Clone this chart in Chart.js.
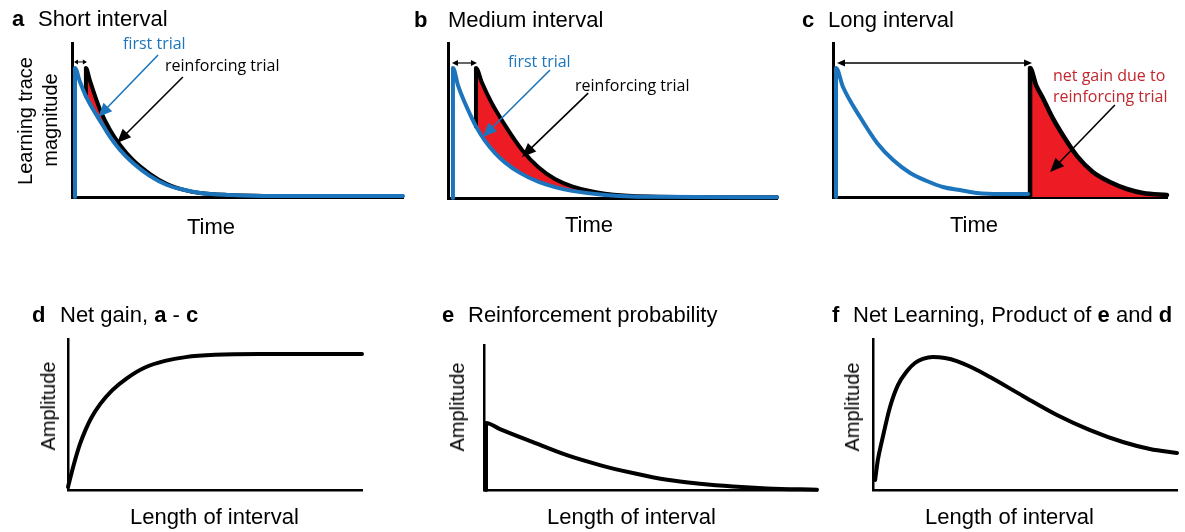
<!DOCTYPE html>
<html><head><meta charset="utf-8">
<script src="https://cdn.jsdelivr.net/npm/chart.js@4.4.1/dist/chart.umd.min.js"></script>
<style>
html,body{margin:0;padding:0;background:#fff;}
body{width:1185px;height:532px;overflow:hidden;position:relative;font-family:"Liberation Sans",Arial,sans-serif;}
canvas{position:absolute;left:0;top:0;}
.t{position:absolute;white-space:nowrap;line-height:1;color:#000;}
.ann{font-family:"Open Sans",sans-serif;}
</style>
</head><body>
<script>
// ---------- data (time in % of axis, magnitude 0..1) ----------
// Panel a: short interval
const aBlueTime  = [0.9, 0.9, 2.4, 4.2, 6.3, 8.5, 11.5, 14.5, 18.4, 23.6, 28.7, 34.1, 38.7, 47.7, 59.8, 100];
const aBlueMag   = [0, 0.838, 0.748, 0.655, 0.571, 0.494, 0.39, 0.305, 0.221, 0.136, 0.078, 0.045, 0.026, 0.013, 0.006, 0.006];
const aBlackTime = [4.2, 4.2, 5.4, 6.9, 8.5, 11.5, 14.5, 18.4, 23.6, 28.7, 34.1, 38.7, 47.7, 59.8];
const aBlackMag  = [0.655, 0.838, 0.757, 0.66, 0.565, 0.435, 0.338, 0.24, 0.149, 0.084, 0.045, 0.026, 0.013, 0.006];
// Panel b: medium interval
const bBlueTime  = [1.5, 1.5, 3.0, 4.6, 6.7, 8.5, 11.2, 14.3, 17.3, 21.9, 27.4, 32.5, 37.7, 47.7, 61.4, 100];
const bBlueMag   = [0, 0.839, 0.73, 0.64, 0.54, 0.462, 0.37, 0.29, 0.23, 0.162, 0.105, 0.07, 0.046, 0.02, 0.008, 0.005];
const bBlackTime = [8.5, 8.5, 10.3, 13.1, 17.3, 22.5, 27.4, 32.5, 37.7, 47.7, 61.4, 100];
const bBlackMag  = [0.462, 0.839, 0.745, 0.62, 0.47, 0.31, 0.2, 0.122, 0.075, 0.028, 0.01, 0.005];
// Panel c: long interval
const cBlueTime  = [0.9, 0.9, 3.0, 8.1, 13.2, 18.0, 23.1, 28.1, 32.9, 38.0, 43.1, 50.0, 58.4];
const cBlueMag   = [0, 0.838, 0.714, 0.519, 0.351, 0.24, 0.156, 0.104, 0.065, 0.045, 0.026, 0.019, 0.019];
const cBlackTime = [59.0, 59.0, 60.8, 62.9, 65.6, 68.0, 73.1, 77.8, 82.9, 88.0, 92.8, 100];
const cBlackMag  = [0, 0.838, 0.727, 0.64, 0.52, 0.43, 0.265, 0.162, 0.097, 0.052, 0.026, 0.013];
// Panel d: net gain
const dInterval  = [0, 2, 4, 6, 8, 11, 15, 20, 26, 33, 40, 50, 65, 100];
const dAmplitude = [0.02, 0.17, 0.30, 0.40, 0.48, 0.57, 0.66, 0.74, 0.81, 0.855, 0.88, 0.895, 0.9, 0.9];
// Panel e: reinforcement probability
const eInterval  = [0.6, 0.6, 4.8, 14.7, 24.9, 34.8, 44.7, 55.0, 64.9, 74.8, 85.0, 100];
const eAmplitude = [0, 0.462, 0.42, 0.33, 0.24, 0.172, 0.117, 0.07, 0.043, 0.024, 0.011, 0.002];
// Panel f: net learning
const fInterval  = [0.7, 1.6, 3.0, 5.6, 8.2, 11.2, 13.8, 16.4, 19.7, 23.7, 27.6, 32.9, 38.5, 49.3, 60.5, 71.4, 82.2, 91.1, 100];
const fAmplitude = [0.066, 0.199, 0.331, 0.55, 0.695, 0.788, 0.841, 0.868, 0.881, 0.874, 0.854, 0.808, 0.748, 0.623, 0.497, 0.397, 0.318, 0.272, 0.245];

const BLUE = '#1c75bc', RED = '#ed1c24', REDTXT = '#c1272d';
const W = 1185, H = 532;

function pts(xs, ys){ return xs.map((x,i)=>({x:x, y:ys[i]})); }

function arrowPlugin(list){
  return {
    id:'arrows',
    afterDatasetsDraw(chart){
      const ctx = chart.ctx, sx = chart.scales.x, sy = chart.scales.y;
      list.forEach(a=>{
        const x1 = sx.getPixelForValue(a.from[0]), y1 = sy.getPixelForValue(a.from[1]);
        const x2 = sx.getPixelForValue(a.to[0]),   y2 = sy.getPixelForValue(a.to[1]);
        const ang = Math.atan2(y2-y1, x2-x1), c = Math.cos(ang), s = Math.sin(ang);
        ctx.save();
        ctx.strokeStyle = a.color; ctx.fillStyle = a.color; ctx.lineWidth = a.width;
        let bx = x1, by = y1;
        if (a.both){ bx = x1 + c*a.len*0.7; by = y1 + s*a.len*0.7; }
        ctx.beginPath(); ctx.moveTo(bx,by); ctx.lineTo(x2 - c*a.len*0.7, y2 - s*a.len*0.7); ctx.stroke();
        const head = (hx,hy,cc,ss)=>{
          ctx.beginPath();
          ctx.moveTo(hx,hy);
          ctx.lineTo(hx - cc*a.len - ss*a.hw, hy - ss*a.len + cc*a.hw);
          ctx.lineTo(hx - cc*a.len + ss*a.hw, hy - ss*a.len - cc*a.hw);
          ctx.closePath(); ctx.fill();
        };
        head(x2,y2,c,s);
        if (a.both) head(x1,y1,-c,-s);
        ctx.restore();
      });
    }
  };
}

function makePanel(area, datasets, ymax, axisW, arrows){
  const cv = document.createElement('canvas');
  cv.width = W; cv.height = H; cv.style.width = W+'px'; cv.style.height = H+'px';
  document.body.appendChild(cv);
  const axis = (min,max)=>({type:'linear', min:min, max:max, display:true,
    ticks:{display:false}, grid:{display:false, drawTicks:false, tickLength:0},
    border:{display:true, color:'#000', width:axisW}, title:{display:false}});
  new Chart(cv, {
    type:'scatter',
    data:{datasets: datasets},
    options:{
      responsive:false, animation:false, events:[], devicePixelRatio:1,
      layout:{autoPadding:false, padding:{left:area.l, top:area.t, right:W-area.r, bottom:H-area.b}},
      plugins:{legend:{display:false}, tooltip:{enabled:false}},
      scales:{x:axis(0,100), y:axis(0,ymax)}
    },
    plugins:[arrowPlugin(arrows)]
  });
}

function line(xs, ys, color, width, extra){
  return Object.assign({data:pts(xs,ys), showLine:true, borderColor:color, borderWidth:width,
    pointRadius:0, cubicInterpolationMode:'monotone', fill:false, clip:false,
    borderJoinStyle:'round', borderCapStyle:'round'}, extra||{});
}

// a
makePanel({l:72, r:403, t:43, b:197}, [
  line(aBlueTime, aBlueMag, BLUE, 4),
  line(aBlackTime, aBlackMag, '#000', 4, {fill:0, backgroundColor:RED})
], 1, 3, [
  {from:[0.6,0.877], to:[4.5,0.877], color:'#000', width:1, len:4, hw:2.5, both:true},
  {from:[26.0,0.922], to:[7.9,0.519], color:BLUE, width:1.6, len:14, hw:6},
  {from:[33.5,0.779], to:[13.6,0.351], color:'#000', width:1.6, len:14, hw:6}
]);
// b
makePanel({l:448, r:777, t:43, b:198}, [
  line(bBlueTime, bBlueMag, BLUE, 4),
  line(bBlackTime, bBlackMag, '#000', 4, {fill:0, backgroundColor:RED})
], 1, 3, [
  {from:[1.2,0.871], to:[8.8,0.871], color:'#000', width:1.2, len:6, hw:3, both:true},
  {from:[31.0,0.826], to:[10.6,0.394], color:BLUE, width:1.6, len:14, hw:6},
  {from:[42.6,0.677], to:[22.5,0.265], color:'#000', width:1.6, len:14, hw:6}
]);
// c
makePanel({l:833, r:1167, t:43, b:197}, [
  line(cBlueTime, cBlueMag, BLUE, 4),
  line(cBlackTime, cBlackMag, '#000', 4.5, {fill:'origin', backgroundColor:RED})
], 1, 3, [
  {from:[1.2,0.870], to:[59.6,0.870], color:'#000', width:1.4, len:8, hw:3.5, both:true},
  {from:[84.4,0.597], to:[65.0,0.162], color:'#000', width:1.6, len:14, hw:6}
]);
// d
makePanel({l:68, r:362, t:339, b:490}, [ line(dInterval, dAmplitude, '#000', 4) ], 1, 2.5, []);
// e
makePanel({l:484, r:817, t:345, b:490}, [ line(eInterval, eAmplitude, '#000', 4) ], 1, 2.5, []);
// f
makePanel({l:873, r:1177, t:339, b:490}, [ line(fInterval, fAmplitude, '#000', 4) ], 1, 2.5, []);

// ---------- text ----------
function txt(html, x, baseline, size, cls, color){
  const d = document.createElement('div');
  d.className = 't ' + (cls||'');
  const asc = (cls && cls.indexOf('ann')>=0) ? 0.888 : 0.8465;
  d.style.left = x+'px'; d.style.top = (baseline - asc*size)+'px';
  d.style.fontSize = size+'px';
  if (color) d.style.color = color;
  d.innerHTML = html;
  document.body.appendChild(d);
}
function vtxt(html, cx, cy, size){
  const d = document.createElement('div');
  d.className = 't';
  d.style.left = cx+'px'; d.style.top = cy+'px'; d.style.fontSize = size+'px';
  d.style.transform = 'translate(-50%,-50%) rotate(-90deg)';
  d.innerHTML = html;
  document.body.appendChild(d);
}
// titles
txt('<b>a</b>', 12, 27, 22); txt('Short interval', 38, 27, 22);
txt('<b>b</b>', 414, 28, 22); txt('Medium interval', 448, 28, 22);
txt('<b>c</b>', 802, 28, 22); txt('Long interval', 828, 28, 22);
txt('<b>d</b>', 32, 323, 22); txt('Net gain, <b>a</b> - <b>c</b>', 60, 323, 22);
txt('<b>e</b>', 442, 323, 22); txt('Reinforcement probability', 468, 323, 22);
txt('<b>f</b>', 832, 323, 22); txt('Net Learning, Product of <b>e</b> and <b>d</b>', 853, 323, 22);
// axis labels
txt('Time', 187, 235, 22); txt('Time', 565, 233, 22); txt('Time', 950, 233, 22);
txt('Length of interval', 130, 525, 22); txt('Length of interval', 547, 525, 22); txt('Length of interval', 925, 525, 22);
vtxt('Learning trace', 25, 121, 20); vtxt('magnitude', 50, 120, 20);
vtxt('Amplitude', 48, 406, 20); vtxt('Amplitude', 457, 407, 20); vtxt('Amplitude', 852, 407, 20);
// annotations
txt('first trial', 123, 49, 16, 'ann', BLUE);
txt('reinforcing trial', 165, 71, 16, 'ann');
txt('first trial', 508, 67, 16, 'ann', BLUE);
txt('reinforcing trial', 575, 91, 16, 'ann');
txt('net gain due to', 1053, 81, 16, 'ann', REDTXT);
txt('reinforcing trial', 1053, 102, 16, 'ann', REDTXT);
</script>
</body></html>
